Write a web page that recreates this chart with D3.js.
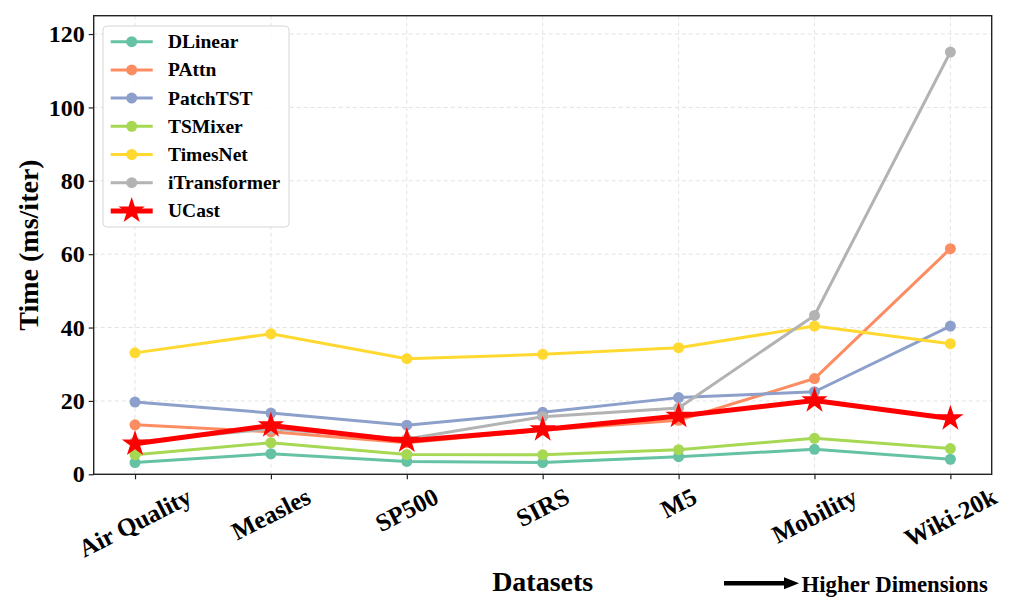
<!DOCTYPE html>
<html>
<head>
    <title>Time per iteration</title>
    <script src="https://cdn.jsdelivr.net/npm/d3@7/dist/d3.min.js" type="text/javascript"></script>
    <style type="text/css">
        body { margin: 0; background: #fff; }
        text { font-family: "Liberation Serif", "Times New Roman", serif; font-weight: bold; fill: #000; }
    </style>
</head>
<body>
<div id="chart"></div>
<script type="text/javascript">
    // values (ms/iter)
    var datasets = ["Air Quality", "Measles", "SP500", "SIRS", "M5", "Mobility", "Wiki-20k"];
    var dlinear = [3.2, 5.6, 3.5, 3.2, 4.8, 6.8, 4.1];
    var pattn = [13.5, 11.6, 8.6, 12.0, 14.7, 26.1, 61.5];
    var patchtst = [19.7, 16.7, 13.4, 16.9, 20.9, 22.5, 40.4];
    var tsmixer = [5.3, 8.6, 5.4, 5.3, 6.7, 9.8, 7.0];
    var timesnet = [33.1, 38.3, 31.5, 32.7, 34.5, 40.4, 35.6];
    var itransformer = [8.8, 12.4, 9.6, 15.7, 18.1, 43.3, 115.1];
    var ucast = [8.3, 13.3, 9.1, 12.2, 15.9, 20.1, 15.2];
    var seriesNames = ["DLinear", "PAttn", "PatchTST", "TSMixer", "TimesNet", "iTransformer", "UCast"];
    var seriesColors = ["#66c2a5", "#fc8d62", "#8da0cb", "#a6d854", "#ffd92f", "#b3b3b3", "#ff0000"];
    var yTicks = [0, 20, 40, 60, 80, 100, 120];

    var series = [dlinear, pattn, patchtst, tsmixer, timesnet, itransformer, ucast];

    var W = 1022, H = 614;
    //plot box (window.top is taken, so prefixed names)
    var pLeft = 93.7, pRight = 991.7, pTop = 15.7, pBottom = 474.3;

    var svg = d3.select('#chart').append('svg')
        .attr('width', W)
        .attr('height', H);

    var x = d3.scalePoint().domain(datasets).range([pLeft, pRight]).padding(0.304);
    var y = d3.scaleLinear().domain([0, 125]).range([pBottom, pTop]);

    //grid
    var grid = svg.append('g');
    grid.selectAll('line.gy').data(yTicks).enter().append('line')
        .attr('x1', pLeft).attr('x2', pRight)
        .attr('y1', function(d) { return y(d); }).attr('y2', function(d) { return y(d); });
    grid.selectAll('line.gx').data(datasets).enter().append('line')
        .attr('x1', function(d) { return x(d); }).attr('x2', function(d) { return x(d); })
        .attr('y1', pTop).attr('y2', pBottom);
    grid.selectAll('line')
        .attr('stroke', '#e3e3e3')
        .attr('stroke-width', 1)
        .attr('stroke-dasharray', '4,3');

    //lines + markers
    var line = d3.line()
        .x(function(d, i) { return x(datasets[i]); })
        .y(function(d) { return y(d); });

    var star = d3.symbol().type(d3.symbolStar).size(215);

    series.forEach(function(vals, k) {
        var isU = seriesNames[k] === "UCast";
        svg.append('path')
            .attr('d', line(vals))
            .attr('fill', 'none')
            .attr('stroke', seriesColors[k])
            .attr('stroke-width', isU ? 5 : 3)
            .attr('stroke-linejoin', 'round');
        if (isU) {
            svg.selectAll('path.star').data(vals).enter().append('path')
                .attr('class', 'star')
                .attr('d', star)
                .attr('transform', function(d, i) { return 'translate(' + x(datasets[i]) + ',' + y(d) + ')'; })
                .attr('fill', seriesColors[k]);
        } else {
            svg.append('g').selectAll('circle').data(vals).enter().append('circle')
                .attr('cx', function(d, i) { return x(datasets[i]); })
                .attr('cy', function(d) { return y(d); })
                .attr('r', 5.5)
                .attr('fill', seriesColors[k]);
        }
    });

    //axes frame
    svg.append('rect')
        .attr('x', pLeft).attr('y', pTop)
        .attr('width', pRight - pLeft).attr('height', pBottom - pTop)
        .attr('fill', 'none').attr('stroke', '#222').attr('stroke-width', 1.4);

    var yAxis = svg.append('g')
        .attr('transform', 'translate(' + pLeft + ',0)')
        .call(d3.axisLeft(y).tickValues(yTicks).tickSize(5).tickPadding(4));
    yAxis.select('.domain').remove();
    yAxis.selectAll('line').attr('stroke', '#222').attr('stroke-width', 1.2);
    yAxis.selectAll('text').attr('font-size', 24).attr('font-family', null);

    var xAxis = svg.append('g')
        .attr('transform', 'translate(0,' + pBottom + ')')
        .call(d3.axisBottom(x).tickSize(5).tickFormat(''));
    xAxis.select('.domain').remove();
    xAxis.selectAll('line').attr('stroke', '#222').attr('stroke-width', 1.2);

    //rotated x labels, box top at ~488
    var ang = 27;
    var sin = Math.sin(ang * Math.PI / 180), cos = Math.cos(ang * Math.PI / 180);
    var fsx = 25;
    svg.append('g').selectAll('text').data(datasets).enter().append('text')
        .attr('font-size', fsx)
        .attr('text-anchor', 'middle')
        .attr('dominant-baseline', 'central')
        .text(function(d) { return d; })
        .attr('transform', function(d) {
            var w = this.getComputedTextLength();
            var cy = 486 + (w * sin + fsx * 0.78 * cos) / 2;
            return 'translate(' + x(d) + ',' + cy + ') rotate(' + (-ang) + ')';
        });

    //titles
    svg.append('text')
        .attr('transform', 'translate(28,' + ((pTop + pBottom) / 2) + ') rotate(-90)')
        .attr('text-anchor', 'middle')
        .attr('dominant-baseline', 'central')
        .attr('font-size', 28)
        .text('Time (ms/iter)');

    svg.append('text')
        .attr('x', (pLeft + pRight) / 2).attr('y', 591)
        .attr('text-anchor', 'middle')
        .attr('font-size', 28)
        .text('Datasets');

    //arrow note
    svg.append('line')
        .attr('x1', 724).attr('x2', 786).attr('y1', 583.3).attr('y2', 583.3)
        .attr('stroke', '#000').attr('stroke-width', 4.5);
    svg.append('path')
        .attr('d', 'M784,577.3 L799,583.3 L784,589.3 Z')
        .attr('fill', '#000');
    svg.append('text')
        .attr('x', 801.5).attr('y', 592)
        .attr('font-size', 22.8)
        .text('Higher Dimensions');

    //legend
    var lg = svg.append('g');
    lg.append('rect')
        .attr('x', 103).attr('y', 26).attr('width', 186).attr('height', 201)
        .attr('rx', 4)
        .attr('fill', '#fff').attr('fill-opacity', 0.85)
        .attr('stroke', '#d6d6d6').attr('stroke-width', 1);
    var items = lg.selectAll('g.item').data(seriesNames).enter().append('g')
        .attr('transform', function(d, i) { return 'translate(0,' + (41.7 + i * 28.2) + ')'; });
    items.append('line')
        .attr('x1', 110.7).attr('x2', 152.7)
        .attr('stroke', function(d, i) { return seriesColors[i]; })
        .attr('stroke-width', function(d) { return d === 'UCast' ? 5 : 3; });
    items.each(function(d, i) {
        var g = d3.select(this);
        if (d === 'UCast') {
            g.append('path').attr('d', star).attr('transform', 'translate(131.7,0)').attr('fill', seriesColors[i]);
        } else {
            g.append('circle').attr('cx', 131.7).attr('r', 5.5).attr('fill', seriesColors[i]);
        }
    });
    items.append('text')
        .attr('x', 168).attr('y', 0)
        .attr('dominant-baseline', 'central')
        .attr('font-size', 19.5)
        .text(function(d) { return d; });
</script>
</body>
</html>
